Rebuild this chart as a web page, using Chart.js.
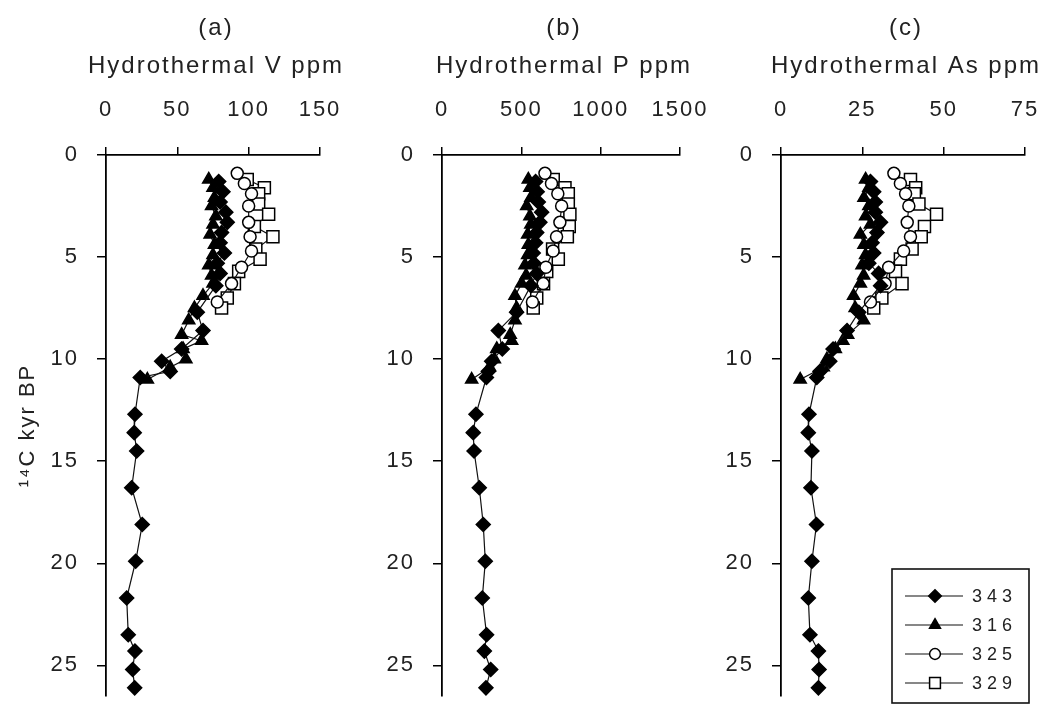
<!DOCTYPE html>
<html>
<head>
<meta charset="utf-8">
<script src="https://cdn.jsdelivr.net/npm/chart.js@4/dist/chart.umd.min.js"></script>
<style>
html,body{margin:0;padding:0;background:#fff;}
#wrap{position:relative;width:1047px;height:706px;overflow:hidden;background:#fff;}
#wrap canvas{position:absolute;top:0;}
</style>
</head>
<body>
<div id="wrap">
  <canvas id="ca" width="360" height="706" style="left:0px"></canvas>
  <canvas id="cb" width="390" height="706" style="left:330px"></canvas>
  <canvas id="cc" width="347" height="706" style="left:700px"></canvas>
</div>
<script>
// ---------- DATA ----------
const cores = ['343', '316', '325', '329'];

// sample ages (14C kyr BP) for each core
const depth343 = [1.3,1.8,2.3,2.8,3.3,3.8,4.3,4.8,5.3,5.8,6.4,7.7,8.6,9.5,10.1,10.6,10.9,12.7,13.6,14.5,16.3,18.1,19.9,21.7,23.5,24.3,25.2,26.1];
const depth316 = [1.2,1.6,2.1,2.5,3.0,3.4,3.9,4.4,4.9,5.4,5.9,6.3,6.9,7.5,8.1,8.8,9.1,9.5,10.0,10.4,11.0];
const depth325 = [0.9,1.4,1.9,2.5,3.3,4.0,4.7,5.5,6.3,7.2];
const depth329 = [1.2,1.6,1.9,2.4,2.9,3.5,4.0,4.6,5.1,5.7,6.3,7.0,7.5];

// (a) Hydrothermal V ppm
const V343 = [79,82,80,84,85,81,80,83,78,80,77,64,68,53,39,45,24,20.3,19.8,21.5,18.0,25.4,20.8,14.5,15.6,20.3,18.7,20.1];
const V316 = [72,75,76,74,77,75,73,76,75,72,74,75,68,62,58,53,67,54,56,45,29];
const V325 = [92,97,102,100,100,101,102,95,88,78];
const V329 = [99,111,107,107,114,104,117,105,108,93,90,85,81];

// (b) Hydrothermal P ppm
const P343 = [590,600,607,628,617,597,590,575,580,597,560,470,355,380,313,292,280,214,197,202,235,260,273,254,281,267,307,277];
const P316 = [544,554,560,534,554,560,540,544,540,523,530,502,460,470,460,430,439,345,330,300,187];
const P325 = [649,690,730,754,743,722,700,655,638,570];
const P329 = [701,775,796,796,806,802,790,697,733,660,640,597,575];

// (c) Hydrothermal As ppm
const As343 = [27.5,28.5,29,29,30.6,29.5,28,28.5,27,30,30.6,23.9,20.3,16,15,12,11,8.6,8.4,9.5,9.2,10.9,9.5,8.4,8.9,11.5,11.7,11.5];
const As316 = [26,27,25.5,27,26,27.5,24.4,25.5,26,24.9,25.4,24.4,22.3,22.8,25.4,20.5,19,16.7,14.1,13,5.9];
const As325 = [34.7,36.7,38.3,39.3,38.8,39.8,37.7,33.1,32,27.5];
const As329 = [39.8,41.4,41,42.4,47.8,44.1,43.1,40.3,36.7,35.2,37.2,31,28.5];

const panelLetters = ['(a)', '(b)', '(c)'];
const xTitles = ['Hydrothermal V ppm', 'Hydrothermal P ppm', 'Hydrothermal As ppm'];
const xMax = [150, 1500, 75];
const xStep = [50, 500, 25];
const yTitle = '\u00B9\u2074C kyr BP';
const yMax = 26.5;
const yStep = 5;

// ---------- STYLE ----------
const depths = [depth343, depth316, depth325, depth329];
const markerStyle = [
  {pointStyle: 'rectRot', radius: 7, fill: '#000'},
  {pointStyle: 'triangle', radius: 7, fill: '#000'},
  {pointStyle: 'circle', radius: 6, fill: '#fff'},
  {pointStyle: 'rect', radius: 8.5, fill: '#fff'}
];
const TEXT = '#222';
const FONT = "'Liberation Sans', Arial, sans-serif";
const TITLE_SIZE = 24;
const TITLE_LH = 1.6;
const TITLE_PAD = 8.8;

const spacingPlugin = {
  id: 'spacing',
  beforeUpdate(c) { c.ctx.letterSpacing = '2px'; },
  beforeLayout(c) { c.ctx.letterSpacing = '2px'; },
  beforeDraw(c) { c.ctx.letterSpacing = '2px'; }
};

// centre the two-line title over the plot area (slightly right, as in the original)
const titleCentrePlugin = {
  id: 'titleCentre',
  afterLayout(chart) {
    const t = chart.titleBlock;
    if (!t) return;
    const cx = (chart.chartArea.left + chart.chartArea.right) / 2 + 3;
    t.left = cx - 300; t.right = cx + 300; t.width = 600;
  }
};

function drawMarker(ctx, st, x, y) {
  const r = st.radius;
  ctx.beginPath();
  if (st.pointStyle === 'rectRot') {
    ctx.moveTo(x, y - r); ctx.lineTo(x + r, y); ctx.lineTo(x, y + r); ctx.lineTo(x - r, y); ctx.closePath();
  } else if (st.pointStyle === 'triangle') {
    for (let k = 0; k < 3; k++) {
      const a = k * 2 * Math.PI / 3;
      const px = x + Math.sin(a) * r, py = y - Math.cos(a) * r;
      if (k === 0) ctx.moveTo(px, py); else ctx.lineTo(px, py);
    }
    ctx.closePath();
  } else if (st.pointStyle === 'circle') {
    ctx.arc(x, y, r, 0, Math.PI * 2);
  } else {
    const s = Math.SQRT1_2 * r;
    ctx.rect(x - s, y - s, 2 * s, 2 * s);
  }
  ctx.fillStyle = st.fill; ctx.fill();
  ctx.lineWidth = 1.5; ctx.strokeStyle = '#000'; ctx.stroke();
}

const legendPlugin = {
  id: 'boxLegend',
  afterDraw(chart) {
    const ctx = chart.ctx;
    const off = 700; // canvas left offset on page
    ctx.save();
    ctx.strokeStyle = '#111';
    ctx.lineWidth = 1.6;
    ctx.strokeRect(892 - off, 569, 137, 134);
    chart.data.datasets.forEach((ds, i) => {
      const y = 596 + i * 29;
      ctx.beginPath();
      ctx.moveTo(905 - off, y); ctx.lineTo(963 - off, y);
      ctx.lineWidth = 1.2; ctx.strokeStyle = '#111'; ctx.stroke();
      drawMarker(ctx, {...markerStyle[i], radius: markerStyle[i].radius * 0.9}, 935 - off, y);
      ctx.letterSpacing = '5px';
      ctx.font = '18px ' + FONT;
      ctx.fillStyle = TEXT;
      ctx.textAlign = 'left';
      ctx.textBaseline = 'middle';
      ctx.fillText(ds.label, 972 - off, y + 1);
    });
    ctx.restore();
  }
};

function makeDatasets(vals) {
  return cores.map((c, i) => ({
    label: c,
    data: depths[i].map((d, j) => ({x: vals[i][j], y: d})),
    showLine: true,
    borderColor: '#111',
    borderWidth: 1.2,
    pointStyle: markerStyle[i].pointStyle,
    pointRadius: markerStyle[i].radius,
    pointHoverRadius: markerStyle[i].radius,
    pointBackgroundColor: markerStyle[i].fill,
    pointBorderColor: '#000',
    pointBorderWidth: 1.5,
    clip: false,
    order: i
  }));
}

function makeChart(id, idx, vals, yWidth, padRight, withYTitle, extraPlugins) {
  const titleH = TITLE_SIZE * TITLE_LH * 2 + TITLE_PAD;
  return new Chart(document.getElementById(id), {
    type: 'scatter',
    data: {datasets: makeDatasets(vals)},
    plugins: [spacingPlugin, titleCentrePlugin].concat(extraPlugins || []),
    options: {
      responsive: false,
      animation: false,
      events: [],
      layout: {padding: {left: 0, right: padRight, top: 0, bottom: 8}},
      plugins: {
        legend: {display: false},
        tooltip: {enabled: false},
        title: {
          display: true, text: [panelLetters[idx], xTitles[idx]], fullSize: true,
          color: TEXT, font: {family: FONT, size: TITLE_SIZE, weight: 'normal', lineHeight: TITLE_LH},
          padding: {top: TITLE_PAD, bottom: 0}
        }
      },
      scales: {
        x: {
          type: 'linear', position: 'top', min: 0, max: xMax[idx],
          ticks: {stepSize: xStep[idx], color: TEXT, padding: 24, maxRotation: 0,
                  font: {family: FONT, size: 22}, callback: v => String(v)},
          grid: {display: true, drawOnChartArea: false, drawTicks: true, tickLength: 8, color: '#000', lineWidth: 1.5},
          border: {display: true, color: '#000', width: 1.8},
          afterFit(s) { s.height = 155 - titleH; s.paddingLeft = 0; s.paddingRight = 0; }
        },
        y: {
          type: 'linear', position: 'left', reverse: true, min: 0, max: yMax,
          ticks: {stepSize: yStep, color: TEXT, padding: 18, font: {family: FONT, size: 22}, callback: v => String(v)},
          afterBuildTicks(s) { s.ticks = s.ticks.filter(t => Math.abs(t.value / yStep - Math.round(t.value / yStep)) < 1e-9); },
          grid: {display: true, drawOnChartArea: false, drawTicks: true, tickLength: 9, color: '#000', lineWidth: 1.5},
          border: {display: true, color: '#000', width: 1.8},
          title: {display: withYTitle, text: yTitle, color: TEXT,
                  font: {family: FONT, size: 22}, padding: {top: 15, bottom: 0}},
          afterFit(s) { s.width = yWidth; s.paddingTop = 0; s.paddingBottom = 0; }
        }
      }
    }
  });
}

// canvas a: 0..360, axis 106..320
makeChart('ca', 0, [V343, V316, V325, V329], 106, 360 - 320, true);
// canvas b: 330..720, axis 442..680
makeChart('cb', 1, [P343, P316, P325, P329], 442 - 330, 720 - 680, false);
// canvas c: 700..1047, axis 781..1025
makeChart('cc', 2, [As343, As316, As325, As329], 781 - 700, 1047 - 1025, false, [legendPlugin]);
</script>
</body>
</html>
